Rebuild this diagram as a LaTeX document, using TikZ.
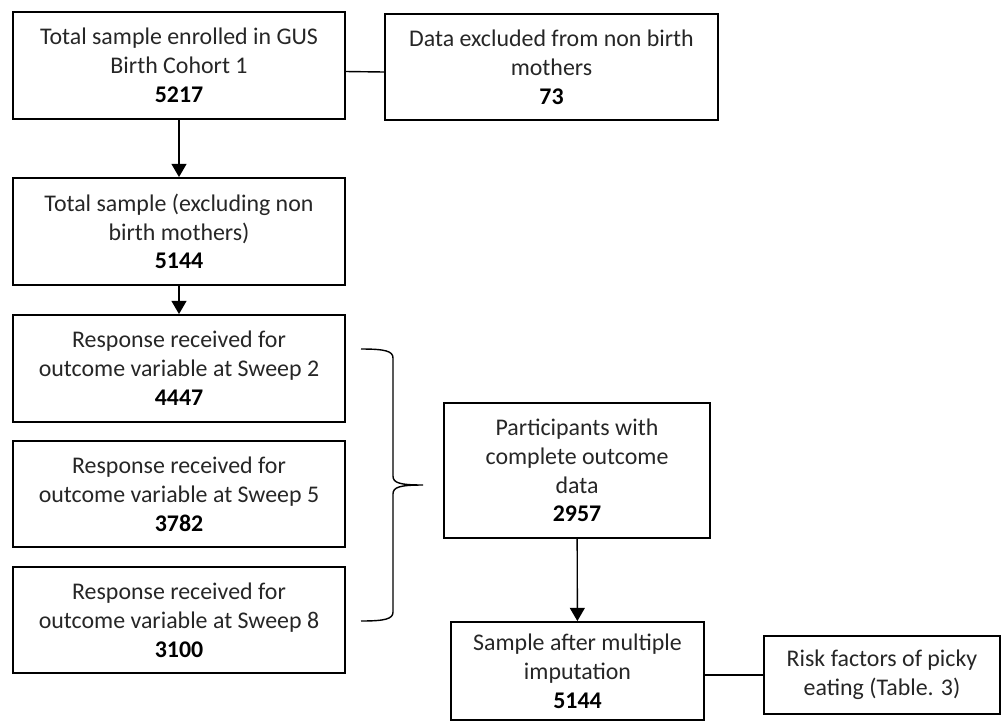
\documentclass[tikz,border=0pt]{standalone}
\usepackage{fontspec}
\setmainfont{Carlito}
\usepackage{tikz}
\usetikzlibrary{arrows.meta,calc}

\tikzset{
  box/.style={draw, line width=1.1pt, align=center, inner sep=0pt,
    text=black!85, font=\fontsize{13.6}{16.4}\selectfont},
  link/.style={line width=0.8pt},
  flow/.style={link, -{Triangle[width=8.5pt,length=7.5pt]}},
}
\newcommand{\num}[1]{\textbf{\textcolor{black}{#1}}}

\begin{document}
\begin{tikzpicture}[x=0.02cm, y=-0.02cm]
    \useasboundingbox (0,0) rectangle (1002,725);

    % left column
    \node[box, minimum width=6.64cm, minimum height=2.14cm] (total) at (179,65.5)
      {Total sample enrolled in GUS\\Birth Cohort 1\\\num{5217}};
    \node[box, minimum width=6.66cm, minimum height=2.12cm] (excluded) at (551.5,67)
      {Data excluded from non birth\\mothers\\\num{73}};
    \node[box, minimum width=6.64cm, minimum height=2.14cm] (birthmothers) at (179,231.5)
      {Total sample (excluding non\\birth mothers)\\\num{5144}};
    \node[box, minimum width=6.64cm, minimum height=2.14cm] (sweep2) at (179,368.5)
      {Response received for\\outcome variable at Sweep 2\\\num{4447}};
    \node[box, minimum width=6.64cm, minimum height=2.12cm] (sweep5) at (179,494)
      {Response received for\\outcome variable at Sweep 5\\\num{3782}};
    \node[box, minimum width=6.64cm, minimum height=2.12cm] (sweep8) at (179,620)
      {Response received for\\outcome variable at Sweep 8\\\num{3100}};

    % right column
    \node[box, minimum width=5.32cm, minimum height=2.70cm] (complete) at (577,470.5)
      {Participants with\\complete outcome\\data\\\num{2957}};
    \node[box, minimum width=5.06cm, minimum height=1.96cm] (impute) at (577.5,671)
      {Sample after multiple\\imputation\\\num{5144}};
    \node[box, minimum width=4.72cm, minimum height=1.56cm] (risk) at (882,675)
      {Risk factors of picky\\eating (Table. 3)};

    % connectors
    \draw[link] ($(total.east)+(0,6)$) -- ($(excluded.west)+(0,5)$);
    \draw[flow] (total) -- (birthmothers);
    \draw[flow] (birthmothers) -- (sweep2);
    \draw[flow] (complete) -- (impute);
    \draw[link] (impute.east |- risk.west) -- (risk.west);

    % brace round the three sweeps
    \draw[link] (361,349) .. controls (385,349) and (393,351) .. (393,358)
      -- (393,476) .. controls (393,483) and (400,485) .. (423,485)
      .. controls (400,485) and (393,487) .. (393,494)
      -- (393,612) .. controls (393,619) and (385,621) .. (361,621);
\end{tikzpicture}
\end{document}
